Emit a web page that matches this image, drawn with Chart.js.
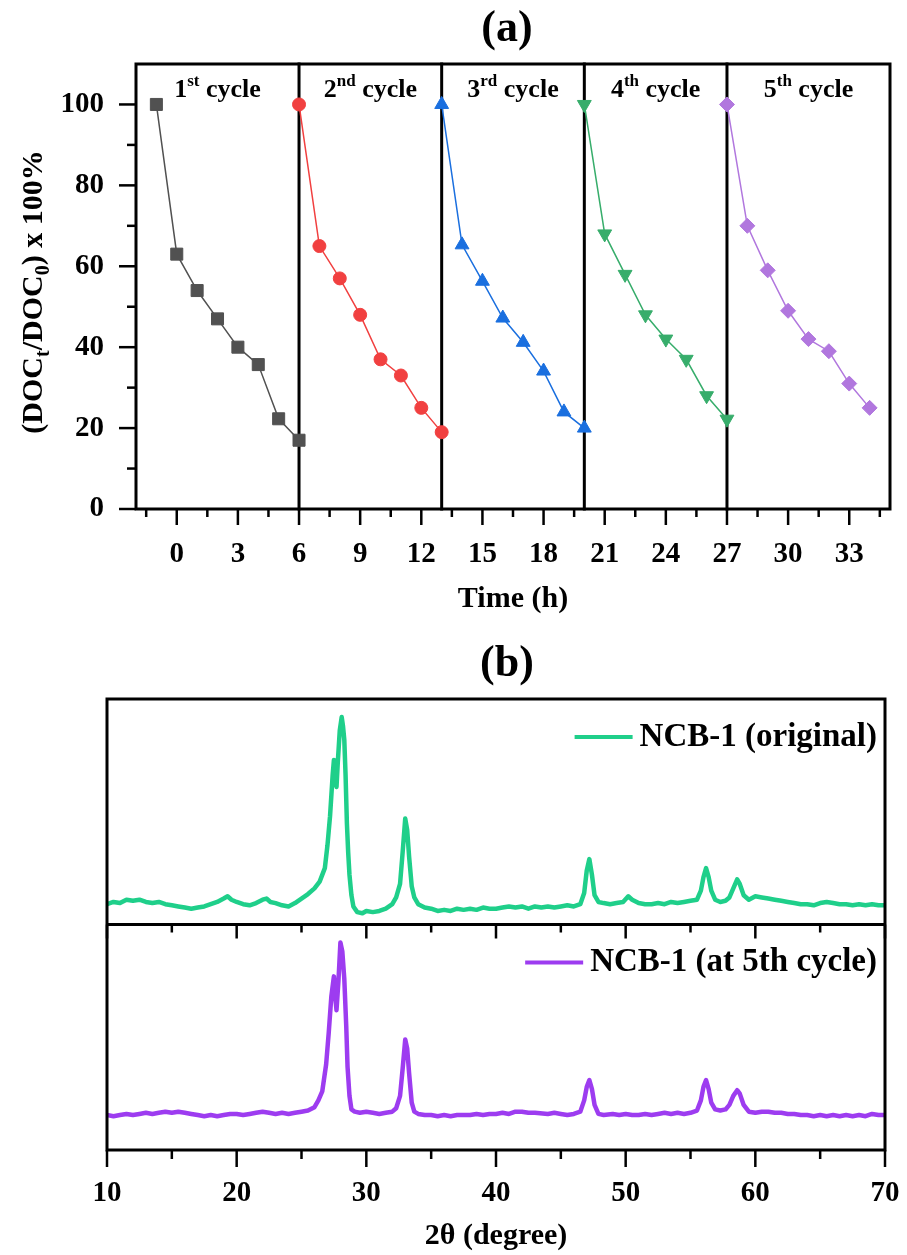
<!DOCTYPE html>
<html>
<head>
<meta charset="utf-8">
<script src="https://cdn.jsdelivr.net/npm/chart.js@4.4.1/dist/chart.umd.min.js"></script>
<style>
  html, body { margin: 0; padding: 0; background: #fff; }
  #wrap { position: relative; width: 907px; height: 1255px; }
  canvas { position: absolute; left: 0; }
  #cycles { top: 0; }
  #xrd { top: 630px; }
</style>
</head>
<body>
<div id="wrap">
  <canvas id="cycles" width="907" height="630"></canvas>
  <canvas id="xrd" width="907" height="625"></canvas>
</div>
<script>
// ---- panel (a): DOC removal over five cycles ----
const cycleNums = ['1', '2', '3', '4', '5'];
const cycleSuffix = ['st', 'nd', 'rd', 'th', 'th'];
const cycleBreaks = [6, 13, 20, 27];

const hours1 = [-1, 0, 1, 2, 3, 4, 5, 6];
const hours2 = [6, 7, 8, 9, 10, 11, 12, 13];
const hours3 = [13, 14, 15, 16, 17, 18, 19, 20];
const hours4 = [20, 21, 22, 23, 24, 25, 26, 27];
const hours5 = [27, 28, 29, 30, 31, 32, 33, 34];

const doc1 = [100, 63, 54, 47, 40, 35.7, 22.3, 17];
const doc2 = [100, 65, 57, 48, 37, 33, 25, 19];
const doc3 = [100, 65.3, 56.3, 47.2, 41.2, 34.1, 24, 20];
const doc4 = [100, 68, 58, 48, 42, 37, 28, 22.2];
const doc5 = [100, 70, 59, 49, 42, 39, 31, 25];

const timeTicks = [0, 3, 6, 9, 12, 15, 18, 21, 24, 27, 30, 33];
const timeMinor = [-1.5, 1.5, 4.5, 7.5, 10.5, 13.5, 16.5, 19.5, 22.5, 25.5, 28.5, 31.5, 34.5];
const docTicks = [0, 20, 40, 60, 80, 100];
const docMinor = [10, 30, 50, 70, 90];

// ---- panel (b): XRD patterns, [2theta, intensity a.u.] ----
const ncbOriginal = [
  [10, 9], [10.5, 10], [11, 9.5], [11.5, 11], [12, 10.5], [12.5, 11], [13, 10], [13.5, 9.5],
  [14, 10], [14.5, 9], [15, 8.5], [15.5, 8], [16, 7.5], [16.5, 7], [17, 7.5], [17.5, 8],
  [18, 9], [18.5, 10], [19, 11.5], [19.3, 12.5], [19.6, 11], [20, 10], [20.5, 9], [21, 8.5],
  [21.5, 9.5], [22, 11], [22.3, 11.5], [22.6, 10], [23, 9.5], [23.5, 8.5], [24, 8], [24.5, 9.5],
  [25, 11.5], [25.5, 13.5], [26, 16], [26.4, 19], [26.8, 25], [27, 35], [27.2, 48], [27.4, 66],
  [27.5, 73], [27.6, 64], [27.7, 61], [27.8, 72], [27.95, 86], [28.1, 92], [28.2, 88], [28.3, 82],
  [28.4, 66], [28.5, 45], [28.6, 32], [28.7, 22], [28.85, 13], [29, 8], [29.3, 5.5], [29.7, 5],
  [30, 6], [30.5, 5.5], [31, 6], [31.5, 7], [32, 9], [32.3, 12], [32.6, 18], [32.8, 32],
  [33, 47], [33.15, 42], [33.3, 30], [33.5, 17], [33.7, 12], [34, 9], [34.5, 7.5], [35, 7],
  [35.5, 6], [36, 6.5], [36.5, 6], [37, 7], [37.5, 6.5], [38, 7], [38.5, 6.5], [39, 7.5],
  [39.5, 7], [40, 7], [40.5, 7.5], [41, 8], [41.5, 7.5], [42, 8], [42.5, 7], [43, 8],
  [43.5, 7.5], [44, 8], [44.5, 7.5], [45, 8], [45.5, 8.5], [46, 8], [46.5, 9], [46.8, 14],
  [47, 24], [47.2, 29], [47.4, 22], [47.6, 13], [47.9, 10], [48.3, 9.5], [48.8, 9], [49.3, 9.5],
  [49.8, 10], [50.2, 12.5], [50.5, 11], [51, 9.5], [51.5, 9], [52, 9], [52.5, 9.5], [53, 9],
  [53.5, 10], [54, 9.5], [54.5, 10], [55, 10.5], [55.5, 11], [55.8, 15], [56, 21], [56.2, 25],
  [56.4, 21], [56.6, 15], [56.9, 11], [57.3, 10], [57.7, 10.5], [58, 12], [58.3, 16], [58.6, 20],
  [58.8, 18], [59.1, 13], [59.5, 11], [60, 12.5], [60.5, 12], [61, 11.5], [61.5, 11], [62, 10.5],
  [62.5, 10], [63, 9.5], [63.5, 9], [64, 9], [64.5, 8.5], [65, 9.5], [65.5, 10], [66, 9.5],
  [66.5, 9], [67, 9], [67.5, 8.5], [68, 9], [68.5, 8.5], [69, 9], [69.5, 8.5], [70, 8.5]
];
const ncbCycled = [
  [10, 15.5], [10.5, 15], [11, 15.5], [11.5, 16], [12, 15.5], [12.5, 16], [13, 16.5], [13.5, 16],
  [14, 16.5], [14.5, 17], [15, 16.5], [15.5, 17], [16, 16.5], [16.5, 16], [17, 15.5], [17.5, 15],
  [18, 15.5], [18.5, 15], [19, 15.5], [19.5, 16], [20, 16], [20.5, 15.5], [21, 16], [21.5, 16.5],
  [22, 17], [22.5, 16.5], [23, 16], [23.5, 16.5], [24, 16], [24.5, 16.5], [25, 17], [25.5, 17.5],
  [26, 19], [26.3, 22], [26.6, 26], [26.9, 38], [27.1, 52], [27.3, 68], [27.5, 77], [27.6, 68],
  [27.7, 62], [27.85, 75], [28, 92], [28.15, 88], [28.3, 76], [28.45, 55], [28.55, 37], [28.7, 24],
  [28.85, 18], [29.1, 17], [29.5, 16.5], [30, 17], [30.5, 16.5], [31, 16], [31.5, 16.5], [32, 17],
  [32.3, 18.5], [32.6, 24], [32.8, 36], [33, 49], [33.15, 45], [33.3, 34], [33.5, 21], [33.7, 17],
  [34, 16], [34.5, 15.5], [35, 15.5], [35.5, 15], [36, 15.5], [36.5, 15], [37, 15.5], [37.5, 15.5],
  [38, 15.5], [38.5, 16], [39, 15.5], [39.5, 16], [40, 16], [40.5, 16.5], [41, 16], [41.5, 17],
  [42, 17], [42.5, 16.5], [43, 16.5], [44, 16], [44.5, 16.5], [45, 16], [45.5, 15.5], [46, 16],
  [46.5, 17], [46.8, 22], [47, 28], [47.2, 31], [47.4, 27], [47.6, 20], [47.9, 16], [48.3, 15.5],
  [49, 16], [49.5, 15.5], [50, 16], [50.5, 15.5], [51, 15.5], [51.5, 16], [52, 15.5], [52.5, 16],
  [53, 16.5], [53.5, 16], [54, 16.5], [54.5, 16], [55, 16.5], [55.5, 17.5], [55.8, 22], [56, 28],
  [56.2, 31], [56.4, 27], [56.6, 21], [56.9, 18], [57.3, 17.5], [57.7, 18], [58, 20], [58.3, 24],
  [58.6, 26.5], [58.8, 25], [59.1, 20], [59.5, 17], [60, 16.5], [60.5, 17], [61, 17], [61.5, 16.5],
  [62, 16.5], [62.5, 16], [63, 16], [63.5, 15.5], [64, 15.5], [64.5, 15], [65, 15.5], [65.5, 15],
  [66, 15.5], [66.5, 15], [67, 15.5], [67.5, 15], [68, 15.5], [68.5, 15], [69, 16], [69.5, 15.5],
  [70, 15.5]
];
const xrdNames = ['NCB-1 (original)', 'NCB-1 (at 5th cycle)'];
const angleTicks = [10, 20, 30, 40, 50, 60, 70];
const angleMinor = [15, 25, 35, 45, 55, 65];

// ---- styling ----
const SERIF = "'Liberation Serif', 'Times New Roman', serif";
const cycleColors = ['#515151', '#F14040', '#1A6FDF', '#37AD6B', '#B177DE'];
const pointStyles = ['rect', 'circle', 'triangle', 'triangle', 'rectRot'];
const pointRotations = [0, 0, 0, 180, 0];
const pointSizes = [8.5, 6.5, 8, 8, 7.5];
const xrdColors = ['#1FCF8A', '#9D3CF0'];

const font = (size) => ({ family: SERIF, size: size, weight: 'bold' });

// draw text made of pieces with their own size and vertical shift, centred on cx
const drawRich = (ctx, parts, cx, baseY) => {
  let total = 0;
  parts.forEach((p) => {
    ctx.font = `bold ${p[1]}px ${SERIF}`;
    total += ctx.measureText(p[0]).width;
  });
  let x = cx - total / 2;
  ctx.textAlign = 'left';
  ctx.textBaseline = 'alphabetic';
  parts.forEach((p) => {
    ctx.font = `bold ${p[1]}px ${SERIF}`;
    ctx.fillText(p[0], x, baseY + p[2]);
    x += ctx.measureText(p[0]).width;
  });
};

const tickLine = (ctx, x1, y1, x2, y2) => {
  ctx.beginPath();
  ctx.moveTo(x1, y1);
  ctx.lineTo(x2, y2);
  ctx.stroke();
};

const cyclePlugin = {
  id: 'cyclePlugin',
  beforeDatasetsDraw(chart) {
    const { ctx, chartArea: a, scales: { x, y } } = chart;
    ctx.save();
    ctx.strokeStyle = '#000';
    ctx.lineWidth = 3;
    ctx.lineCap = 'square';
    cycleBreaks.forEach((v) => {
      const px = x.getPixelForValue(v);
      tickLine(ctx, px, a.top, px, a.bottom);
    });
    ctx.strokeRect(a.left, a.top, a.width, a.height);
    ctx.lineCap = 'butt';
    ctx.lineWidth = 2.5;
    timeTicks.forEach((v) => { const px = x.getPixelForValue(v); tickLine(ctx, px, a.bottom, px, a.bottom + 16); });
    timeMinor.forEach((v) => { const px = x.getPixelForValue(v); tickLine(ctx, px, a.bottom, px, a.bottom + 8); });
    docTicks.forEach((v) => { const py = y.getPixelForValue(v); tickLine(ctx, a.left, py, a.left - 17, py); });
    docMinor.forEach((v) => { const py = y.getPixelForValue(v); tickLine(ctx, a.left, py, a.left - 9, py); });
    ctx.restore();
  },
  afterDraw(chart) {
    const { ctx, chartArea: a, scales: { x } } = chart;
    ctx.save();
    ctx.fillStyle = '#000';
    // cycle labels centred in each section
    const bounds = [x.min].concat(cycleBreaks, [x.max]);
    cycleNums.forEach((n, i) => {
      const cx = (x.getPixelForValue(bounds[i]) + x.getPixelForValue(bounds[i + 1])) / 2;
      drawRich(ctx, [[n, 26, 0], [cycleSuffix[i], 17, -11], [' cycle', 26, 0]], cx, a.top + 33);
    });
    // panel title
    ctx.font = `bold 44px ${SERIF}`;
    ctx.textAlign = 'center';
    ctx.textBaseline = 'middle';
    ctx.fillText('(a)', 507, 30);
    // y axis title with subscripts
    ctx.translate(42, 292);
    ctx.rotate(-Math.PI / 2);
    drawRich(ctx, [['(DOC', 30, 0], ['t', 20, 7], ['/DOC', 30, 0], ['0', 20, 7], [') x 100%', 30, 0]], 0, 0);
    ctx.restore();
  }
};

const xrdPlugin = {
  id: 'xrdPlugin',
  afterDraw(chart) {
    const { ctx, chartArea: a, scales: { x, yTop, yBot } } = chart;
    ctx.save();
    ctx.strokeStyle = '#000';
    ctx.lineWidth = 3;
    ctx.strokeRect(a.left, a.top, a.width, a.height);
    const mid = yTop.bottom;
    tickLine(ctx, a.left, mid, a.right, mid);
    ctx.lineWidth = 2.5;
    angleTicks.forEach((v) => {
      const px = x.getPixelForValue(v);
      tickLine(ctx, px, a.bottom, px, a.bottom + 17);
      tickLine(ctx, px, mid, px, mid + 14);
    });
    angleMinor.forEach((v) => {
      const px = x.getPixelForValue(v);
      tickLine(ctx, px, a.bottom, px, a.bottom + 9);
      tickLine(ctx, px, mid, px, mid + 8);
    });
    // legends, right aligned inside each stacked panel
    [yTop, yBot].forEach((s, i) => {
      const ly = s.top + 38;
      ctx.font = `bold 33px ${SERIF}`;
      ctx.textAlign = 'right';
      ctx.textBaseline = 'middle';
      ctx.fillStyle = '#000';
      ctx.fillText(xrdNames[i], a.right - 8, ly);
      const left = a.right - 8 - ctx.measureText(xrdNames[i]).width - 7;
      ctx.strokeStyle = xrdColors[i];
      ctx.lineWidth = 4;
      tickLine(ctx, left - 58, ly, left, ly);
    });
    ctx.fillStyle = '#000';
    ctx.font = `bold 44px ${SERIF}`;
    ctx.textAlign = 'center';
    ctx.textBaseline = 'middle';
    ctx.fillText('(b)', 507, 35);
    ctx.restore();
  }
};

const cycleHours = [hours1, hours2, hours3, hours4, hours5];
const cycleDoc = [doc1, doc2, doc3, doc4, doc5];

new Chart(document.getElementById('cycles'), {
  type: 'line',
  data: {
    datasets: cycleHours.map((hrs, i) => ({
      label: `${cycleNums[i]}${cycleSuffix[i]} cycle`,
      data: hrs.map((h, k) => ({ x: h, y: cycleDoc[i][k] })),
      borderColor: cycleColors[i],
      backgroundColor: cycleColors[i],
      borderWidth: 1.5,
      pointStyle: pointStyles[i],
      rotation: pointRotations[i],
      pointRadius: pointSizes[i],
      pointBorderWidth: 1,
      tension: 0
    }))
  },
  options: {
    responsive: false,
    animation: false,
    devicePixelRatio: 1,
    layout: { padding: { top: 64, right: 17, left: 0, bottom: 0 } },
    plugins: { legend: { display: false }, tooltip: { enabled: false } },
    scales: {
      x: {
        type: 'linear',
        min: -2,
        max: 35,
        afterBuildTicks: (s) => { s.ticks = timeTicks.map((v) => ({ value: v })); },
        afterFit: (s) => { s.height = 121; s.paddingLeft = 0; s.paddingRight = 0; },
        grid: { display: false },
        border: { display: false },
        ticks: { font: font(29), color: '#000', padding: 20, autoSkip: false, maxRotation: 0 },
        title: { display: true, text: 'Time (h)', font: font(30), color: '#000', padding: { top: 0, bottom: 13 } }
      },
      y: {
        min: 0,
        max: 110,
        afterBuildTicks: (s) => { s.ticks = docTicks.map((v) => ({ value: v })); },
        afterFit: (s) => { s.width = 136; },
        grid: { display: false },
        border: { display: false },
        ticks: { font: font(29), color: '#000', padding: 24 }
      }
    }
  },
  plugins: [cyclePlugin]
});

const hiddenY = {
  position: 'left',
  stack: 'xrd',
  stackWeight: 1,
  min: 0,
  max: 100,
  afterFit: (s) => { s.width = 107; },
  grid: { display: false },
  border: { display: false },
  ticks: { display: false }
};

new Chart(document.getElementById('xrd'), {
  type: 'line',
  data: {
    datasets: [ncbOriginal, ncbCycled].map((pts, i) => ({
      label: xrdNames[i],
      data: pts.map((p) => ({ x: p[0], y: p[1] })),
      yAxisID: i === 0 ? 'yTop' : 'yBot',
      borderColor: xrdColors[i],
      borderWidth: 4.5,
      borderJoinStyle: 'round',
      pointRadius: 0,
      tension: 0
    }))
  },
  options: {
    responsive: false,
    animation: false,
    devicePixelRatio: 1,
    layout: { padding: { top: 69, right: 22, left: 0, bottom: 0 } },
    plugins: { legend: { display: false }, tooltip: { enabled: false } },
    scales: {
      x: {
        type: 'linear',
        min: 10,
        max: 70,
        afterBuildTicks: (s) => { s.ticks = angleTicks.map((v) => ({ value: v })); },
        afterFit: (s) => { s.height = 105; s.paddingLeft = 0; s.paddingRight = 0; },
        grid: { display: false },
        border: { display: false },
        ticks: { font: font(29), color: '#000', padding: 18, autoSkip: false, maxRotation: 0 },
        title: { display: true, text: '2θ (degree)', font: font(30), color: '#000', padding: { top: 0, bottom: 1 } }
      },
      yBot: hiddenY,
      yTop: Object.assign({}, hiddenY)
    }
  },
  plugins: [xrdPlugin]
});
</script>
</body>
</html>
